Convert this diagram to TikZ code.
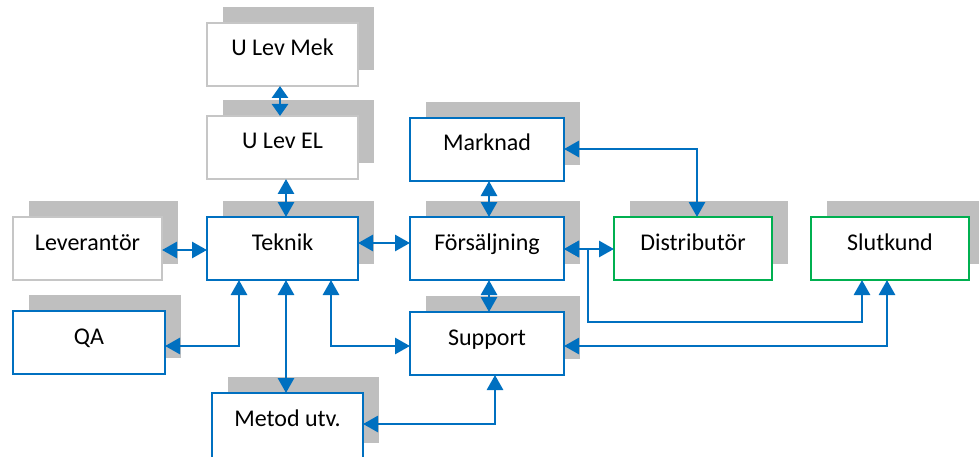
\documentclass[tikz,border=0pt]{standalone}
\usepackage{fontspec}
\setmainfont{Carlito}
\usetikzlibrary{arrows.meta,shadows,calc}
\definecolor{cblue}{HTML}{0070C0}
\definecolor{cgreen}{HTML}{00B050}
\definecolor{cshadow}{HTML}{BFBFBF}
\definecolor{cgrayline}{HTML}{C6C6C6}
\tikzset{
  box/.style={draw=cblue, line width=1.8pt, fill=white, minimum width=151pt, minimum height=63pt,
    inner sep=0pt, outer sep=0pt,
    drop shadow={shadow xshift=16pt, shadow yshift=16pt, fill=cshadow, opacity=1, draw=none}},
  graybox/.style={box, draw=cgrayline},
  greenbox/.style={box, draw=cgreen, minimum width=158pt},
  lbl/.style={anchor=base, inner sep=0pt, font=\fontsize{24}{28}\selectfont},
  conn/.style={draw=cblue, line width=2.8pt, {Triangle[length=15pt,width=16pt]}-{Triangle[length=15pt,width=16pt]}},
  shortconn/.style={draw=cblue, line width=2.8pt, {Triangle[length=12pt,width=16pt]}-{Triangle[length=12pt,width=16pt]}}
}
\newcommand{\boxlabel}[2]{\node[lbl] at ($(#1.north)+(0,33)$) {#2};}
\begin{document}
\begin{tikzpicture}[x=1pt,y=-1pt]
\useasboundingbox (0,0) rectangle (979,457);
% boxes
\node[graybox] (ulevmek) at (282.5,54.5) {};
\node[graybox] (ulevel)  at (282.5,147.5) {};
\node[box]     (teknik)  at (282.5,248.5) {};
\node[graybox, minimum width=149pt] (lev) at (87.5,248.5) {};
\node[box, minimum width=152pt] (qa) at (89,342.5) {};
\node[box, minimum height=66pt] (metod) at (287.5,426) {};
\node[box, minimum width=154pt] (marknad) at (487,149.5) {};
\node[box, minimum width=154pt] (fors) at (487,248.5) {};
\node[box, minimum width=154pt] (support) at (487,343.5) {};
\node[greenbox] (dist) at (693,248.5) {};
\node[greenbox] (slut) at (890,248.5) {};
% labels
\boxlabel{ulevmek}{U Lev Mek}
\boxlabel{ulevel}{U Lev EL}
\boxlabel{teknik}{Teknik}
\boxlabel{lev}{Leverantör}
\boxlabel{qa}{QA}
\boxlabel{metod}{Metod utv.}
\boxlabel{marknad}{Marknad}
\boxlabel{fors}{Försäljning}
\boxlabel{support}{Support}
\boxlabel{dist}{Distributör}
\boxlabel{slut}{Slutkund}
% connectors
\draw[shortconn] (ulevmek.south -| 280,0) -- (ulevel.north -| 280,0);
\draw[conn] (ulevel.south -| 286,0) -- (teknik.north -| 286,0);
\draw[conn] (lev.east |- 0,250) -- (teknik.west |- 0,250);
\draw[conn] (teknik.east |- 0,243) -- (fors.west |- 0,243);
\draw[conn] (qa.east |- 0,346) -| (teknik.south -| 239,0);
\draw[conn] (teknik.south -| 286,0) -- (metod.north -| 286,0);
\draw[conn] (teknik.south -| 331,0) |- (support.west |- 0,346);
\draw[conn] (metod.east |- 0,424) -| (support.south -| 495,0);
\draw[conn] (marknad.south -| 489,0) -- (fors.north -| 489,0);
\draw[conn] (fors.south -| 489,0) -- (support.north -| 489,0);
\draw[conn] (marknad.east |- 0,149) -| (dist.north -| 697,0);
\draw[conn] (fors.east |- 0,249) -- (dist.west |- 0,249);
\draw[conn] (fors.east |- 0,249) -| (588,322) -| (slut.south -| 862,0);
\draw[conn] (support.east |- 0,346) -| (slut.south -| 887,0);
\end{tikzpicture}
\end{document}
